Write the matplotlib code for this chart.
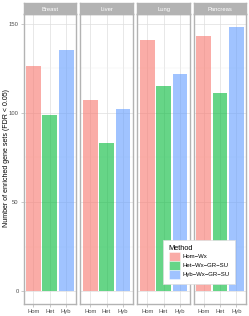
import matplotlib
matplotlib.use("Agg")
import matplotlib.pyplot as plt
from matplotlib.patches import Patch

tissues = ["Breast", "Liver", "Lung", "Pancreas"]
methods = ["Hom", "Het", "Hyb"]
legend_labels = ["Hom\u2212Wx", "Het\u2212Wx\u2212GR\u2212SU", "Hyb\u2212Wx\u2212GR\u2212SU"]
values = {
    "Breast": [126, 99, 135],
    "Liver": [107, 83, 102],
    "Lung": [141, 115, 122],
    "Pancreas": [143, 111, 148],
}
colors = ["#F8766D", "#00BA38", "#619CFF"]
yticks = [0, 50, 100, 150]

W, H = 249, 316
plt.rcParams['font.family'] = ['Liberation Sans', 'DejaVu Sans']
fig = plt.figure(figsize=(W / 100, H / 100), dpi=100)

lefts = [23.5, 80.3, 137.3, 193.7]
pw = 52.5
top_px, bot_px = 14.0, 304.3
strip_top = 3.0
grey70 = "#B3B3B3"

for i, t in enumerate(tissues):
    ax = fig.add_axes([lefts[i] / W, (H - bot_px) / H, pw / W, (bot_px - top_px) / H])
    x = range(len(methods))
    ax.bar(x, values[t], width=0.9, color=colors, alpha=0.6, zorder=2)
    ax.set_xlim(-0.6, 2.6)
    ax.set_ylim(-7.4, 155.4)
    ax.set_xticks(list(x))
    ax.set_xticklabels(methods)
    ax.set_yticks(yticks)
    ax.set_yticks([25, 75, 125], minor=True)
    ax.grid(True, which="major", color="#DEDEDE", linewidth=0.5, zorder=0)
    ax.grid(True, which="minor", axis="y", color="#EFEFEF", linewidth=0.3, zorder=0)
    ax.set_axisbelow(True)
    for s in ax.spines.values():
        s.set_color(grey70)
        s.set_linewidth(1.0)
    ax.tick_params(axis="both", which="major", length=2, width=0.5, color=grey70,
                   labelsize=4.2, labelcolor="#4D4D4D", pad=1.5)
    ax.tick_params(axis="both", which="minor", length=0)
    if i > 0:
        ax.tick_params(axis="y", which="both", left=False, labelleft=False)
    # strip
    sax = fig.add_axes([lefts[i] / W, (H - top_px) / H, pw / W, (top_px - strip_top) / H])
    sax.set_facecolor(grey70)
    sax.set_xticks([])
    sax.set_yticks([])
    for s in sax.spines.values():
        s.set_color(grey70)
        s.set_linewidth(1.0)
    sax.text(0.5, 0.45, t, ha="center", va="center", fontsize=4.2, color="white",
             transform=sax.transAxes)

fig.text(6.5 / W, 1 - 158 / H, "Number of enriched gene sets (FDR < 0.05)",
         rotation=90, ha="center", va="center", fontsize=5.0, color="black")

handles = [Patch(facecolor=c, alpha=0.6, edgecolor="white", linewidth=0.5) for c in colors]
leg = fig.legend(handles, legend_labels, title="Method", loc="lower right",
                 bbox_to_anchor=(235 / W, 1 - 284 / H),
                 fontsize=4.3, title_fontsize=5.3, frameon=True, fancybox=False,
                 handlelength=1.8, handleheight=1.9, borderpad=0.9,
                 labelspacing=0.0, handletextpad=0.5, alignment="left",
                 borderaxespad=0.0)
leg.get_frame().set_edgecolor("#DDDDDD")
leg.get_frame().set_linewidth(0.5)
leg.get_frame().set_alpha(1.0)

fig.savefig("out.png", dpi=100)
